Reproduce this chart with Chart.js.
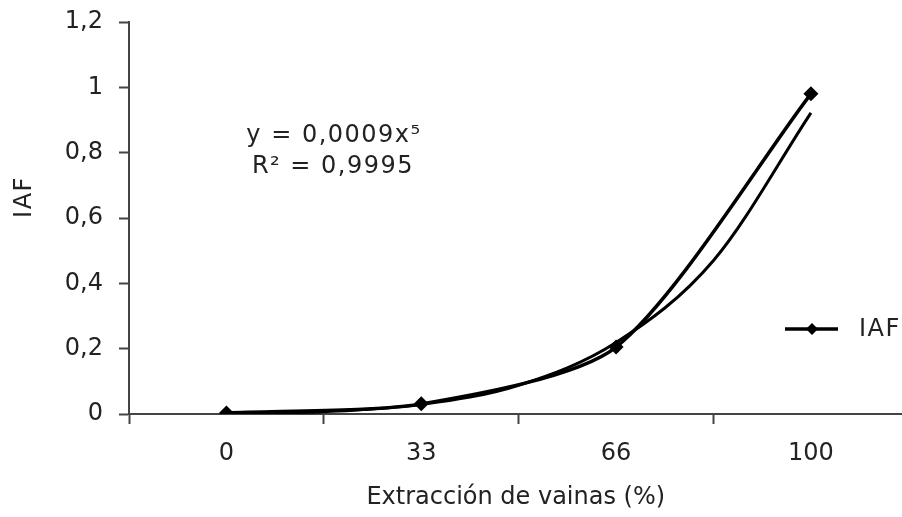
<!DOCTYPE html>
<html>
<head>
<meta charset="utf-8">
<script src="https://cdn.jsdelivr.net/npm/chart.js@4.4.0/dist/chart.umd.min.js"></script>
<style>
  html, body { margin: 0; padding: 0; background: #fff; overflow: hidden; }
  #wrap { width: 902px; height: 517px; overflow: hidden; }
</style>
</head>
<body>
<div id="wrap"><canvas id="iafChart" width="910" height="517"></canvas></div>
<script>
// categorias del eje X (extraccion de vainas, %)
const categorias = ['0', '33', '66', '100'];
// IAF medido en cada categoria
const iaf = [0.003, 0.031, 0.205, 0.98];
// linea de tendencia (potencial), posiciones 1 .. 4 cada 0,5
const tendenciaX = [1, 1.5, 2, 2.5, 3, 3.5, 4];
const tendenciaY = [0.001, 0.007, 0.029, 0.088, 0.219, 0.47, 0.922];
const ecuacion = ['y = 0,0009x\u2075', 'R\u00b2 = 0,9995'];

const FONT = 'DejaVu Sans';
const SIZE = 24;
const INK = '#222';
const AXIS = '#444';

const extras = {
    id: 'extras',
    beforeInit(chart) {
        chart.ctx.letterSpacing = '1.5px';
    },
    afterDraw(chart) {
        const c = chart.ctx;
        c.save();
        c.letterSpacing = '1.5px';
        c.fillStyle = INK;
        c.font = SIZE + 'px "' + FONT + '"';
        c.textAlign = 'center';
        c.textBaseline = 'middle';
        c.fillText(ecuacion[0], 334, 136);
        c.fillText(ecuacion[1], 333, 167);

        // titulo eje Y
        c.save();
        c.translate(25, 197);
        c.rotate(-Math.PI / 2);
        c.fillText('IAF', 0, 0);
        c.restore();

        // leyenda
        c.strokeStyle = '#000';
        c.lineWidth = 3.5;
        c.beginPath();
        c.moveTo(785, 329);
        c.lineTo(838, 329);
        c.stroke();
        c.fillStyle = '#000';
        c.beginPath();
        c.moveTo(812, 323);
        c.lineTo(818, 329);
        c.lineTo(812, 335);
        c.lineTo(806, 329);
        c.closePath();
        c.fill();
        c.fillStyle = INK;
        c.textAlign = 'left';
        c.fillText('IAF', 859, 330);
        c.restore();
    }
};

new Chart(document.getElementById('iafChart').getContext('2d'), {
    type: 'line',
    data: {
        datasets: [{
            label: 'IAF',
            data: iaf.map((v, i) => ({ x: i + 1, y: v })),
            borderColor: '#000',
            backgroundColor: '#000',
            borderWidth: 3.5,
            tension: 0.25,
            pointStyle: 'rectRot',
            pointRadius: 7.5,
            pointBorderWidth: 0,
        }, {
            label: 'tendencia',
            data: tendenciaX.map((x, i) => ({ x, y: tendenciaY[i] })),
            borderColor: '#000',
            borderWidth: 3,
            cubicInterpolationMode: 'monotone',
            pointRadius: 0,
        }],
    },
    options: {
        responsive: false,
        animation: false,
        layout: { padding: { top: 14, right: 0, left: 0, bottom: 0 } },
        plugins: {
            legend: { display: false },
            tooltip: { enabled: false },
        },
        scales: {
            x: {
                type: 'linear',
                min: 0.5,
                max: 4.47,
                afterBuildTicks: (axis) => {
                    axis.ticks = [0.5, 1, 1.5, 2, 2.5, 3, 3.5, 4].map(v => ({ value: v }));
                },
                afterFit: (s) => { s.height = 103; },
                ticks: {
                    autoSkip: false,
                    maxRotation: 0,
                    padding: 15,
                    color: INK,
                    font: { family: FONT, size: SIZE },
                    callback: (v) => Number.isInteger(v) ? categorias[v - 1] : '',
                },
                grid: {
                    drawOnChartArea: false,
                    tickLength: 10,
                    tickWidth: 2,
                    tickColor: (ctx) => (ctx.tick && !Number.isInteger(ctx.tick.value)) ? AXIS : 'rgba(0,0,0,0)',
                },
                border: { color: AXIS, width: 2 },
                title: {
                    display: true,
                    text: 'Extracción de vainas (%)',
                    color: INK,
                    font: { family: FONT, size: SIZE },
                    padding: { top: 0, bottom: 5 },
                },
            },
            y: {
                min: 0,
                max: 1.2,
                afterFit: (s) => { s.width = 129; },
                ticks: {
                    stepSize: 0.2,
                    padding: 16,
                    color: INK,
                    font: { family: FONT, size: SIZE, lineHeight: 0.5 },
                    callback: (v) => String(Number(v.toFixed(1))).replace('.', ','),
                },
                grid: {
                    drawOnChartArea: false,
                    tickLength: 10,
                    tickWidth: 2,
                    tickColor: AXIS,
                },
                border: { color: AXIS, width: 2 },
            },
        },
    },
    plugins: [extras],
});
</script>
</body>
</html>
